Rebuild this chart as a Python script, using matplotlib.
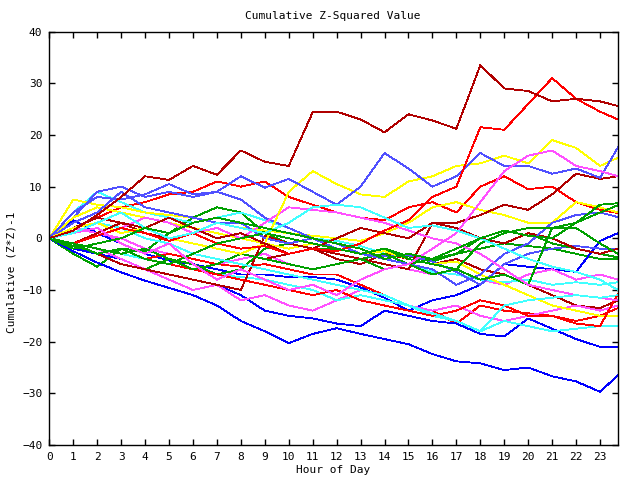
import matplotlib
matplotlib.use('Agg')
import matplotlib.pyplot as plt

plt.rcParams['font.family'] = ['DejaVu Sans Mono']
plt.rcParams['font.size'] = 8

# hour of day (last sample 23:45)
hours = list(range(24)) + [23.75]

# cumulative (z*z)-1 per series, read at each hour
dr1 = [0, 1.5, 4.5, 8, 12, 11.3, 14, 12.3, 17, 14.8, 14, 24.4, 24.5, 23, 20.5, 24, 22.8, 21.2, 33.5, 29, 28.5, 26.5, 27, 26.5, 25.6]
r_up = [0, -1, 0.5, 2, 1, -0.5, 1, -1, -2, -1.5, -3, -2, -2.5, -1, 1.5, 3.5, 8, 10, 21.5, 21, 26, 31, 27, 24.5, 23]
lb_up = [0, 5, 8, 7.5, 8.5, 10.5, 8.5, 9, 12, 9.8, 11.5, 9, 6.5, 10, 16.5, 13.5, 10, 12, 16.5, 14, 14, 12.5, 13.5, 11.7, 17.6]
y_up = [0, 2, 3, 1, 2, 0, -1, -2, -3, -1, 9, 13, 10.5, 8.5, 8, 11, 12, 14, 14.5, 16, 14.5, 19, 17.5, 14, 15.6]
m_up = [0, 1, 2, -1, -3, -1, -5, -8, -6, -8, -10, -9, -11, -8, -6, -5, -2, 1, 7, 13, 16, 17, 14, 13, 12]
dr2 = [0, -1, 1, 3, 2, 4, 2, 0, 1, -1, -3, -2, 0, 2, 1, 0, 3, 3, 4.5, 6.5, 5.5, 8.5, 12.5, 11.5, 12]
r_mid = [0, 2, 4, 6, 7, 8.5, 9, 11, 10, 11, 8, 6.5, 5, 4, 3.5, 6, 7, 5, 10, 12, 9.5, 10, 7, 5.5, 4.9]
lb2 = [0, 3, 5, 9, 6, 5, 4, 3, 3, 0, -1, 0, -2, -3, -4, -5, -6, -9, -7, -3, -1, 3, 4.5, 5, 4.1]
g1 = [0, -1, -3, -2, -4, -5, -3, -1, 0, 1, 0, -1, -2, -3, -2, -4, -5, -6, -1, 1, 2, 2, 3, 6.5, 6.8]
g2 = [0, -2, -1, 0, 2, 1, 3, 4, 3, 2, 1, 0, -1, -2, -4, -3, -4, -2, 0, 1.5, 0.5, 0, 3, 5, 6.4]
b3 = [0, 3.5, 1, -1, -3, -4.3, -5, -6, -7, -7, -7.5, -7.5, -8, -9.5, -11.5, -14, -12, -11, -9, -5, -5.5, -6, -6.5, -0.5, 1]
g3 = [0, -1, -2, -3, -2, -4, -6, -5, -3, -4, -5, -6, -5, -4, -6, -5, -7, -6, -8, -7, -9, 2, 2, -1, -3]
g4 = [0, -1.5, -3, -5, -6, -4, -5, -7, -6, -2, -1, -2, -3, -4, -3, -5, -4, -3, 0, -1, 1, -1, -2, -3, -3.7]
c1 = [0, 1, 3, 5, 2, 0, 1, 3, 2, 1, 3, 6, 6.5, 6, 4, 2, 2.5, 1.5, 0, -2, -4, -5.5, -6.5, -8, -10]
c2 = [0, -1, -2, -3, -4, -5, -6, -7, -7.5, -8, -9, -10, -12, -11, -12, -13, -15, -16, -18, -16, -17, -18, -17.5, -17, -17]
c3 = [0, 2, 3, 2, 0, -1, -3, -4, -5, -6, -7, -8, -9, -10, -11, -13, -14.5, -16, -18, -13, -12, -11.5, -11, -11.5, -11]
c4 = [0, 5, 9, 7, 5, 4, 3, 4, 5, 3.5, 2, 0, -0.5, -1.5, -3, -5, -6.5, -7, -8, -8.5, -8, -9, -8.5, -9, -8.5]
y2 = [0, 4, 6, 5, 4, 3, 2, 1, 0, -1, -2, -1, -2, -3, -2.5, -4, -5, -4.5, -7, -9, -11, -13, -14, -15, -15]
y3 = [0, 7.5, 6.5, 6, 5, 4.5, 4, 3, 2, 1.5, 1, 0.5, 0, -0.5, 1, 3, 6, 7, 5.5, 4.5, 3, 3, 7, 6, 5]
m2 = [0, 2, 1, 0, -2, -3, -4, -5, -4, -3, -5, -6, -5, -4, -5, -6, -7, -6, -8, -9, -7, -6, -8, -7, -8]
m3 = [0, -1, -2, -4, -6, -8, -10, -9, -12, -11, -13, -14, -12, -10, -11, -13, -14, -13, -15, -16, -15, -14, -13, -14, -13]
m4 = [0, 1, 3, 2, 4, 3, 1, 2, 0, 3, 6, 5.5, 5, 4, 3, 1.5, 0, -1, -3, -6, -9, -10, -11, -11.5, -12]
r3 = [0, -1, -3, -2, -4, -5, -6, -7, -8, -9, -10, -11, -10, -12, -13, -14, -15, -14, -12, -13, -15, -15, -16.5, -17, -10.7]
r4 = [0, -1, -2, -3, -4, -3, -4, -5, -5.5, -5, -6, -7, -7, -9, -11, -13, -14, -16.5, -13, -14, -14.5, -15, -16, -15, -13.5]
dr3 = [0, 2, 4, 3, 1, 0, -1, -2, -3, -4, -3, -2, -4, -5, -3, -4, -5, -4, -6, -7, -9, -11, -13, -13.5, -12]
dr4 = [0, -1, -3, -5, -6, -7, -8, -9, -10, 0.5, -1, -2, -3, -4, -5, -6, 3, 2, 0, -1, 1, 0, -2, -3, -2]
b_low = [0, -2.5, -4.7, -6.6, -8.2, -9.6, -11, -13, -16, -18, -20.3, -18.5, -17.4, -18.5, -19.5, -20.5, -22.4, -23.8, -24.2, -25.5, -25, -26.7, -27.7, -29.7, -26.5]
b2 = [0, -2, -3, -4, -6, -7, -8, -9, -11, -14, -15, -15.5, -16.5, -17, -14, -15, -16, -16.5, -18.5, -19, -15.5, -17.5, -19.5, -21, -21]
lb3 = [0, 4, 9, 10, 8, 9, 8, 9, 7.5, 4, 2, 0, -1, -3, -3.5, -3.3, -4.5, -6.5, -9, -5, -3, -2, -1.5, -2, -2]
g5 = [0, -3, -5.5, -2, -2.5, 1, 4, 6, 5, 1, -1, -2, -2, -3, -2, -3.5, -4.5, -3, -2, -1, -1.5, -2, -3, -4, -4]

RED, GRN, BLU, MAG, CYN, YEL, DRD, LBL = ('#ff0000', '#00a000', '#0000ff', '#ff50ff',
                                          '#40ffff', '#ffff00', '#b00000', '#5050ff')

series = [
    (r_mid, RED), (g5, GRN), (b3, BLU), (m2, MAG), (c4, CYN), (y3, YEL), (dr3, DRD), (lb3, LBL),
    (r4, RED), (g4, GRN), (b2, BLU), (m3, MAG), (c2, CYN), (y2, YEL), (dr4, DRD), (lb2, LBL),
    (r3, RED), (g3, GRN), (b_low, BLU), (m4, MAG), (c3, CYN), (y_up, YEL), (dr2, DRD), (lb_up, LBL),
    (r_up, RED), (g1, GRN), (m_up, MAG), (c1, CYN), (dr1, DRD), (g2, GRN),
]

fig = plt.figure(figsize=(6.4, 4.8), dpi=100)
ax = fig.add_axes([49.3 / 640, 1 - 445 / 480, (618 - 49.3) / 640, (445 - 31.6) / 480])

for vals, col in series:
    ax.plot(hours, vals, color=col, lw=0.6, antialiased=False)

ax.set_xlim(0, 23.75)
ax.set_ylim(-40, 40)
ax.set_xticks(range(24))
ax.set_yticks(range(-40, 41, 10))
ax.tick_params(direction='in', length=4, width=1, top=True, right=True,
               labelsize=8, pad=5)
for sp in ax.spines.values():
    sp.set_linewidth(1)

fig.text(333 / 640, 1 - 16 / 480, 'Cumulative Z-Squared Value', ha='center', va='center', fontsize=8)
fig.text(333 / 640, 1 - 470 / 480, 'Hour of Day', ha='center', va='center', fontsize=8)
fig.text(12 / 640, 1 - 272 / 480, 'Cumulative (Z*Z)-1', ha='center', va='center',
         rotation=90, fontsize=8)

fig.savefig('out.png', dpi=100)
